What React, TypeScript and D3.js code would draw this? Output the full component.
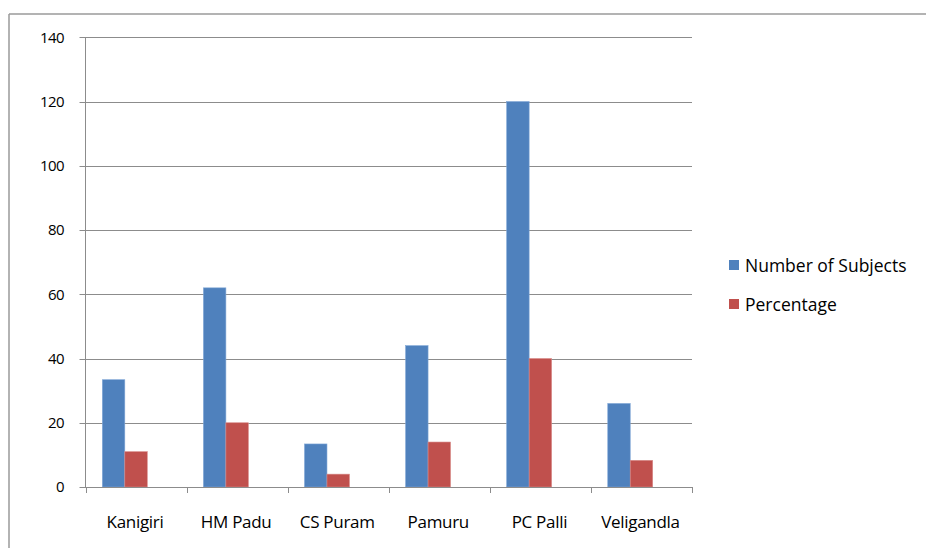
import React from "react";
import * as d3 from "d3";

// Survey data per mandal
const categories = ["Kanigiri", "HM Padu", "CS Puram", "Pamuru", "PC Palli", "Veligandla"];
const subjects = [33.4, 62, 13.4, 44, 120, 26];
const percentage = [11, 20, 4, 14, 40, 8.3];
const seriesNames = ["Number of Subjects", "Percentage"];
const seriesColors = ["#4F81BD", "#C0504D"];
const yTicks = [0, 20, 40, 60, 80, 100, 120, 140];

const W = 926;
const H = 548;
const plot = { left: 85.5, right: 692, top: 37.3, bottom: 487 };
const FONT = "'Open Sans', 'Liberation Sans', Arial, sans-serif";

export default function App() {
  const x0 = d3.scaleBand<string>().domain(categories).range([plot.left, plot.right]);
  // three slots per category, the last one is an empty series slot
  const x1 = d3
    .scaleBand<string>()
    .domain([...seriesNames, "_blank"])
    .range([0, x0.bandwidth()])
    .paddingInner(0)
    .paddingOuter(0.75);
  const y = d3.scaleLinear().domain([0, 140]).range([plot.bottom, plot.top]);
  const series = [subjects, percentage];

  const tickXs = categories.map((c) => x0(c)!).concat([plot.right]);

  return (
    <svg
      width={W}
      height={H}
      style={{ position: "absolute", left: 0, top: 0, display: "block", background: "#fff" }}
    >
      {/* outer chart frame */}
      <line x1={9} y1={14} x2={W} y2={14} stroke="#9a9a9a" strokeWidth={1.5} />
      <line x1={9} y1={14} x2={9} y2={H} stroke="#9a9a9a" strokeWidth={1.5} />

      {/* gridlines */}
      {yTicks.map((t) => (
        <line
          key={"g" + t}
          x1={plot.left - 6}
          x2={plot.right}
          y1={Math.round(y(t)) + 0.5}
          y2={Math.round(y(t)) + 0.5}
          stroke="#8c8c8c"
          strokeWidth={1}
        />
      ))}

      {/* y axis */}
      <line x1={plot.left} x2={plot.left} y1={plot.top} y2={plot.bottom} stroke="#8c8c8c" />
      {yTicks.map((t) => (
        <text
          key={"yl" + t}
          x={64}
          y={y(t)}
          dy="0.36em"
          textAnchor="end"
          fontFamily={FONT}
          fontSize={15}
          letterSpacing={-0.6}
          fill="#000"
        >
          {t}
        </text>
      ))}

      {/* bars */}
      {series.map((vals, si) =>
        categories.map((c, ci) => {
          const bx = x0(c)! + x1(seriesNames[si])!;
          const by = y(vals[ci]);
          return (
            <rect
              key={si + "-" + c}
              x={bx}
              y={by}
              width={x1.bandwidth()}
              height={plot.bottom - by}
              fill={seriesColors[si]}
              stroke={si === 0 ? "#7fa6d6" : "#d88a88"}
              strokeWidth={0.6}
            />
          );
        })
      )}

      {/* x axis */}
      <line x1={plot.left} x2={plot.right} y1={plot.bottom + 0.5} y2={plot.bottom + 0.5} stroke="#8c8c8c" />
      {tickXs.map((tx, i) => (
        <line
          key={"xt" + i}
          x1={Math.round(tx) + 0.5}
          x2={Math.round(tx) + 0.5}
          y1={plot.bottom}
          y2={plot.bottom + 6}
          stroke="#8c8c8c"
        />
      ))}
      {categories.map((c) => (
        <text
          key={"xl" + c}
          x={x0(c)! + x0.bandwidth() / 2 - 1}
          y={528}
          textAnchor="middle"
          fontFamily={FONT}
          fontSize={17}
          letterSpacing={-0.3}
          fill="#000"
        >
          {c}
        </text>
      ))}

      {/* legend */}
      {seriesNames.map((n, i) => (
        <g key={"lg" + n} transform={`translate(729, ${260 + i * 39})`}>
          <rect x={0} y={0} width={10} height={10} fill={seriesColors[i]} />
          <text x={16} y={11.5} fontFamily={FONT} fontSize={17.5} fill="#000">
            {n}
          </text>
        </g>
      ))}
    </svg>
  );
}
